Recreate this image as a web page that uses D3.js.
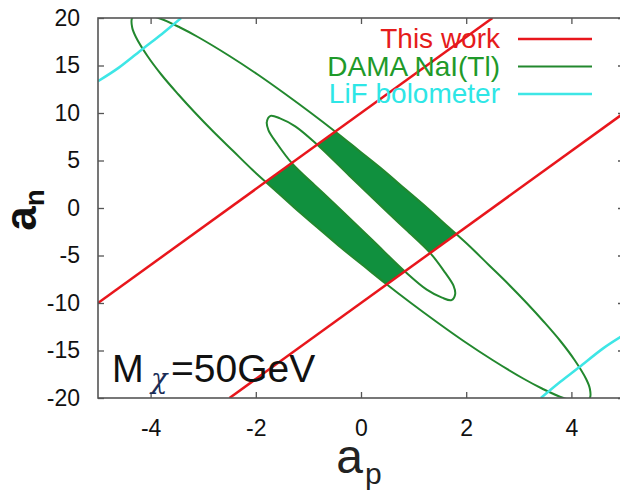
<!DOCTYPE html>
<html>
<head>
<meta charset="utf-8">
<script src="https://cdn.jsdelivr.net/npm/d3@7"></script>
<style>
  html, body { margin: 0; padding: 0; background: #fff; }
  svg { display: block; font-family: "Liberation Sans", Arial, Helvetica, sans-serif; }
</style>
</head>
<body>
<div id="chart"></div>
<script>
// tick values
const xTicks = [-4, -2, 0, 2, 4]
const yTicks = [-20, -15, -10, -5, 0, 5, 10, 15, 20]

// "This work" limits (two parallel lines)
const redUpper = [[-5, -10], [2.5, 20]]
const redLower = [[-2.5, -20], [5, 10]]

// DAMA NaI(Tl) contours (a_p, a_n)
const damaOuter = [
  [-4.18, 20.4], [-4.35, 20], [-4.35, 19], [-4.28, 18], [-4.06, 16], [-3.79, 14],
  [-3.48, 12], [-3.15, 10], [-2.8, 8], [-2.43, 6], [-2.06, 4], [-1.66, 2],
  [-1.26, 0], [-0.84, -2], [-0.42, -4], [0.03, -6], [0.48, -8], [0.95, -10],
  [1.44, -12], [1.95, -14], [2.5, -16], [3.1, -18], [3.44, -19], [3.85, -20],
  [4.18, -20.4], [4.35, -20], [4.35, -19], [4.28, -18], [4.06, -16], [3.79, -14],
  [3.48, -12], [3.15, -10], [2.8, -8], [2.43, -6], [2.06, -4], [1.66, -2],
  [1.26, 0], [0.84, 2], [0.42, 4], [-0.03, 6], [-0.48, 8], [-0.95, 10],
  [-1.44, 12], [-1.95, 14], [-2.5, 16], [-3.1, 18], [-3.44, 19], [-3.85, 20]
]
const damaInner = [
  [-1.72, 9.7], [-1.79, 9.08], [-1.76, 8.2], [-1.6, 6.81], [-1.31, 4.7],
  [-0.86, 2.3], [-0.4, -0.1], [0.22, -3.4], [0.84, -6.71], [1.25, -8.6],
  [1.54, -9.44], [1.72, -9.7], [1.79, -9.08], [1.76, -8.2], [1.6, -6.81],
  [1.31, -4.7], [0.86, -2.3], [0.4, 0.1], [-0.22, 3.4], [-0.84, 6.71],
  [-1.25, 8.6], [-1.54, 9.44]
]

// LiF bolometer contour pieces
const lifUpper = [[-5, 13.35], [-4.61, 14.75], [-4.14, 16.8], [-3.79, 18.3], [-3.42, 20]]
const lifLower = [[3.42, -20], [3.79, -18.3], [4.14, -16.8], [4.61, -14.75], [5, -13.35]]

const legendLabels = ['This work', 'DAMA NaI(Tl)', 'LiF bolometer']
const legendColors = ['#e51b1b', '#1f9a2a', '#2ee6e6']

const width = 620
const height = 491
const plotLeft = 98, plotRight = 624, plotTop = 18, plotBottom = 398

const red = '#e8161c'
const green = '#22882e'
const fillGreen = '#10903e'
const cyan = '#3ee6e6'
const frameColor = '#555'

const svg = d3.select('#chart').append('svg')
    .attr('width', width)
    .attr('height', height)

const x = d3.scaleLinear().domain([-5, 5]).range([plotLeft, plotRight])
const y = d3.scaleLinear().domain([-20, 20]).range([plotBottom, plotTop])

const defs = svg.append('defs')
defs.append('clipPath').attr('id', 'plotClip')
    .append('rect')
    .attr('x', plotLeft).attr('y', plotTop)
    .attr('width', plotRight - plotLeft).attr('height', plotBottom - plotTop)

// strip between the two red lines
const strip = [redUpper[0], redUpper[1], redLower[1], redLower[0]]
defs.append('clipPath').attr('id', 'stripClip')
    .append('path')
    .attr('d', d3.line().x(d => x(d[0])).y(d => y(d[1]))(strip) + 'Z')

const closed = d3.line().x(d => x(d[0])).y(d => y(d[1])).curve(d3.curveCatmullRomClosed.alpha(0.5))
const open = d3.line().x(d => x(d[0])).y(d => y(d[1])).curve(d3.curveCatmullRom.alpha(0.5))

const plot = svg.append('g').attr('clip-path', 'url(#plotClip)')

// filled allowed region: annulus inside the red strip
plot.append('g').attr('clip-path', 'url(#stripClip)')
    .append('path')
    .attr('d', closed(damaOuter) + closed(damaInner))
    .attr('fill', fillGreen)
    .attr('fill-rule', 'evenodd')

plot.selectAll('path.dama')
    .data([damaOuter, damaInner])
    .join('path')
    .attr('class', 'dama')
    .attr('d', d => closed(d))
    .attr('fill', 'none')
    .attr('stroke', green)
    .attr('stroke-width', 2)

plot.selectAll('path.lif')
    .data([lifUpper, lifLower])
    .join('path')
    .attr('class', 'lif')
    .attr('d', d => open(d))
    .attr('fill', 'none')
    .attr('stroke', cyan)
    .attr('stroke-width', 2.5)

plot.selectAll('path.red')
    .data([redUpper, redLower])
    .join('path')
    .attr('class', 'red')
    .attr('d', d3.line().x(d => x(d[0])).y(d => y(d[1])))
    .attr('fill', 'none')
    .attr('stroke', red)
    .attr('stroke-width', 2.5)

// axes with inward ticks
const tickFont = g => g.selectAll('text')
    .attr('font-size', 23)
    .attr('fill', '#111')
    .attr('font-family', '"Liberation Sans", Arial, sans-serif')

svg.append('g')
    .attr('transform', `translate(0,${plotBottom})`)
    .call(d3.axisBottom(x).tickValues(xTicks).tickFormat(d => String(d))
        .tickSizeInner(-6).tickSizeOuter(0).tickPadding(22))
    .call(g => g.select('.domain').remove())
    .call(tickFont)

svg.append('g')
    .attr('transform', `translate(0,${plotTop})`)
    .call(d3.axisTop(x).tickValues(xTicks).tickSizeInner(-6).tickSizeOuter(0).tickFormat(''))
    .call(g => g.select('.domain').remove())

svg.append('g')
    .attr('transform', `translate(${plotLeft},0)`)
    .call(d3.axisLeft(y).tickValues(yTicks).tickFormat(d => String(d))
        .tickSizeInner(-6).tickSizeOuter(0).tickPadding(18))
    .call(g => g.select('.domain').remove())
    .call(tickFont)

svg.append('g')
    .attr('transform', `translate(${plotRight},0)`)
    .call(d3.axisRight(y).tickValues(yTicks).tickSizeInner(-6).tickSizeOuter(0).tickFormat(''))
    .call(g => g.select('.domain').remove())

svg.selectAll('.tick line').attr('stroke', frameColor).attr('stroke-width', 1.3)

svg.append('rect')
    .attr('x', plotLeft).attr('y', plotTop)
    .attr('width', plotRight - plotLeft).attr('height', plotBottom - plotTop)
    .attr('fill', 'none')
    .attr('stroke', frameColor)
    .attr('stroke-width', 1.6)

// axis titles
const xTitle = svg.append('text')
    .attr('x', 359).attr('y', 473)
    .attr('text-anchor', 'middle')
    .attr('fill', '#222')
    .attr('font-size', 48)
xTitle.append('tspan').text('a')
xTitle.append('tspan').attr('font-size', 30).attr('dy', 11).attr('dx', 2).text('p')

const yTitle = svg.append('text')
    .attr('transform', 'translate(36,210) rotate(-90)')
    .attr('text-anchor', 'middle')
    .attr('fill', '#111')
    .attr('font-weight', 'bold')
    .attr('font-size', 44)
yTitle.append('tspan').text('a')
yTitle.append('tspan').attr('font-size', 28).attr('dy', 8).text('n')

// mass annotation
const mass = svg.append('text')
    .attr('x', 112).attr('y', 382)
    .attr('fill', '#111')
    .attr('font-size', 38)
mass.append('tspan').text('M')
mass.append('tspan')
    .attr('x', 151).attr('dy', 6)
    .attr('font-size', 27)
    .attr('font-style', 'italic')
    .attr('fill', '#1b2d57')
    .attr('font-family', '"DejaVu Serif", serif')
    .text('χ')
mass.append('tspan').attr('x', 171).attr('dy', -6).attr('font-size', 39).text('=50GeV')

// legend
const legend = svg.append('g')
legendLabels.forEach((label, i) => {
    const ly = 39 + i * 27.5
    legend.append('text')
        .attr('x', 500).attr('y', ly + 9)
        .attr('text-anchor', 'end')
        .attr('font-size', 28)
        .attr('fill', legendColors[i])
        .text(label)
    legend.append('line')
        .attr('x1', 518).attr('x2', 592)
        .attr('y1', ly).attr('y2', ly)
        .attr('stroke', [red, green, cyan][i])
        .attr('stroke-width', i === 1 ? 2 : 2.5)
})
</script>
</body>
</html>
